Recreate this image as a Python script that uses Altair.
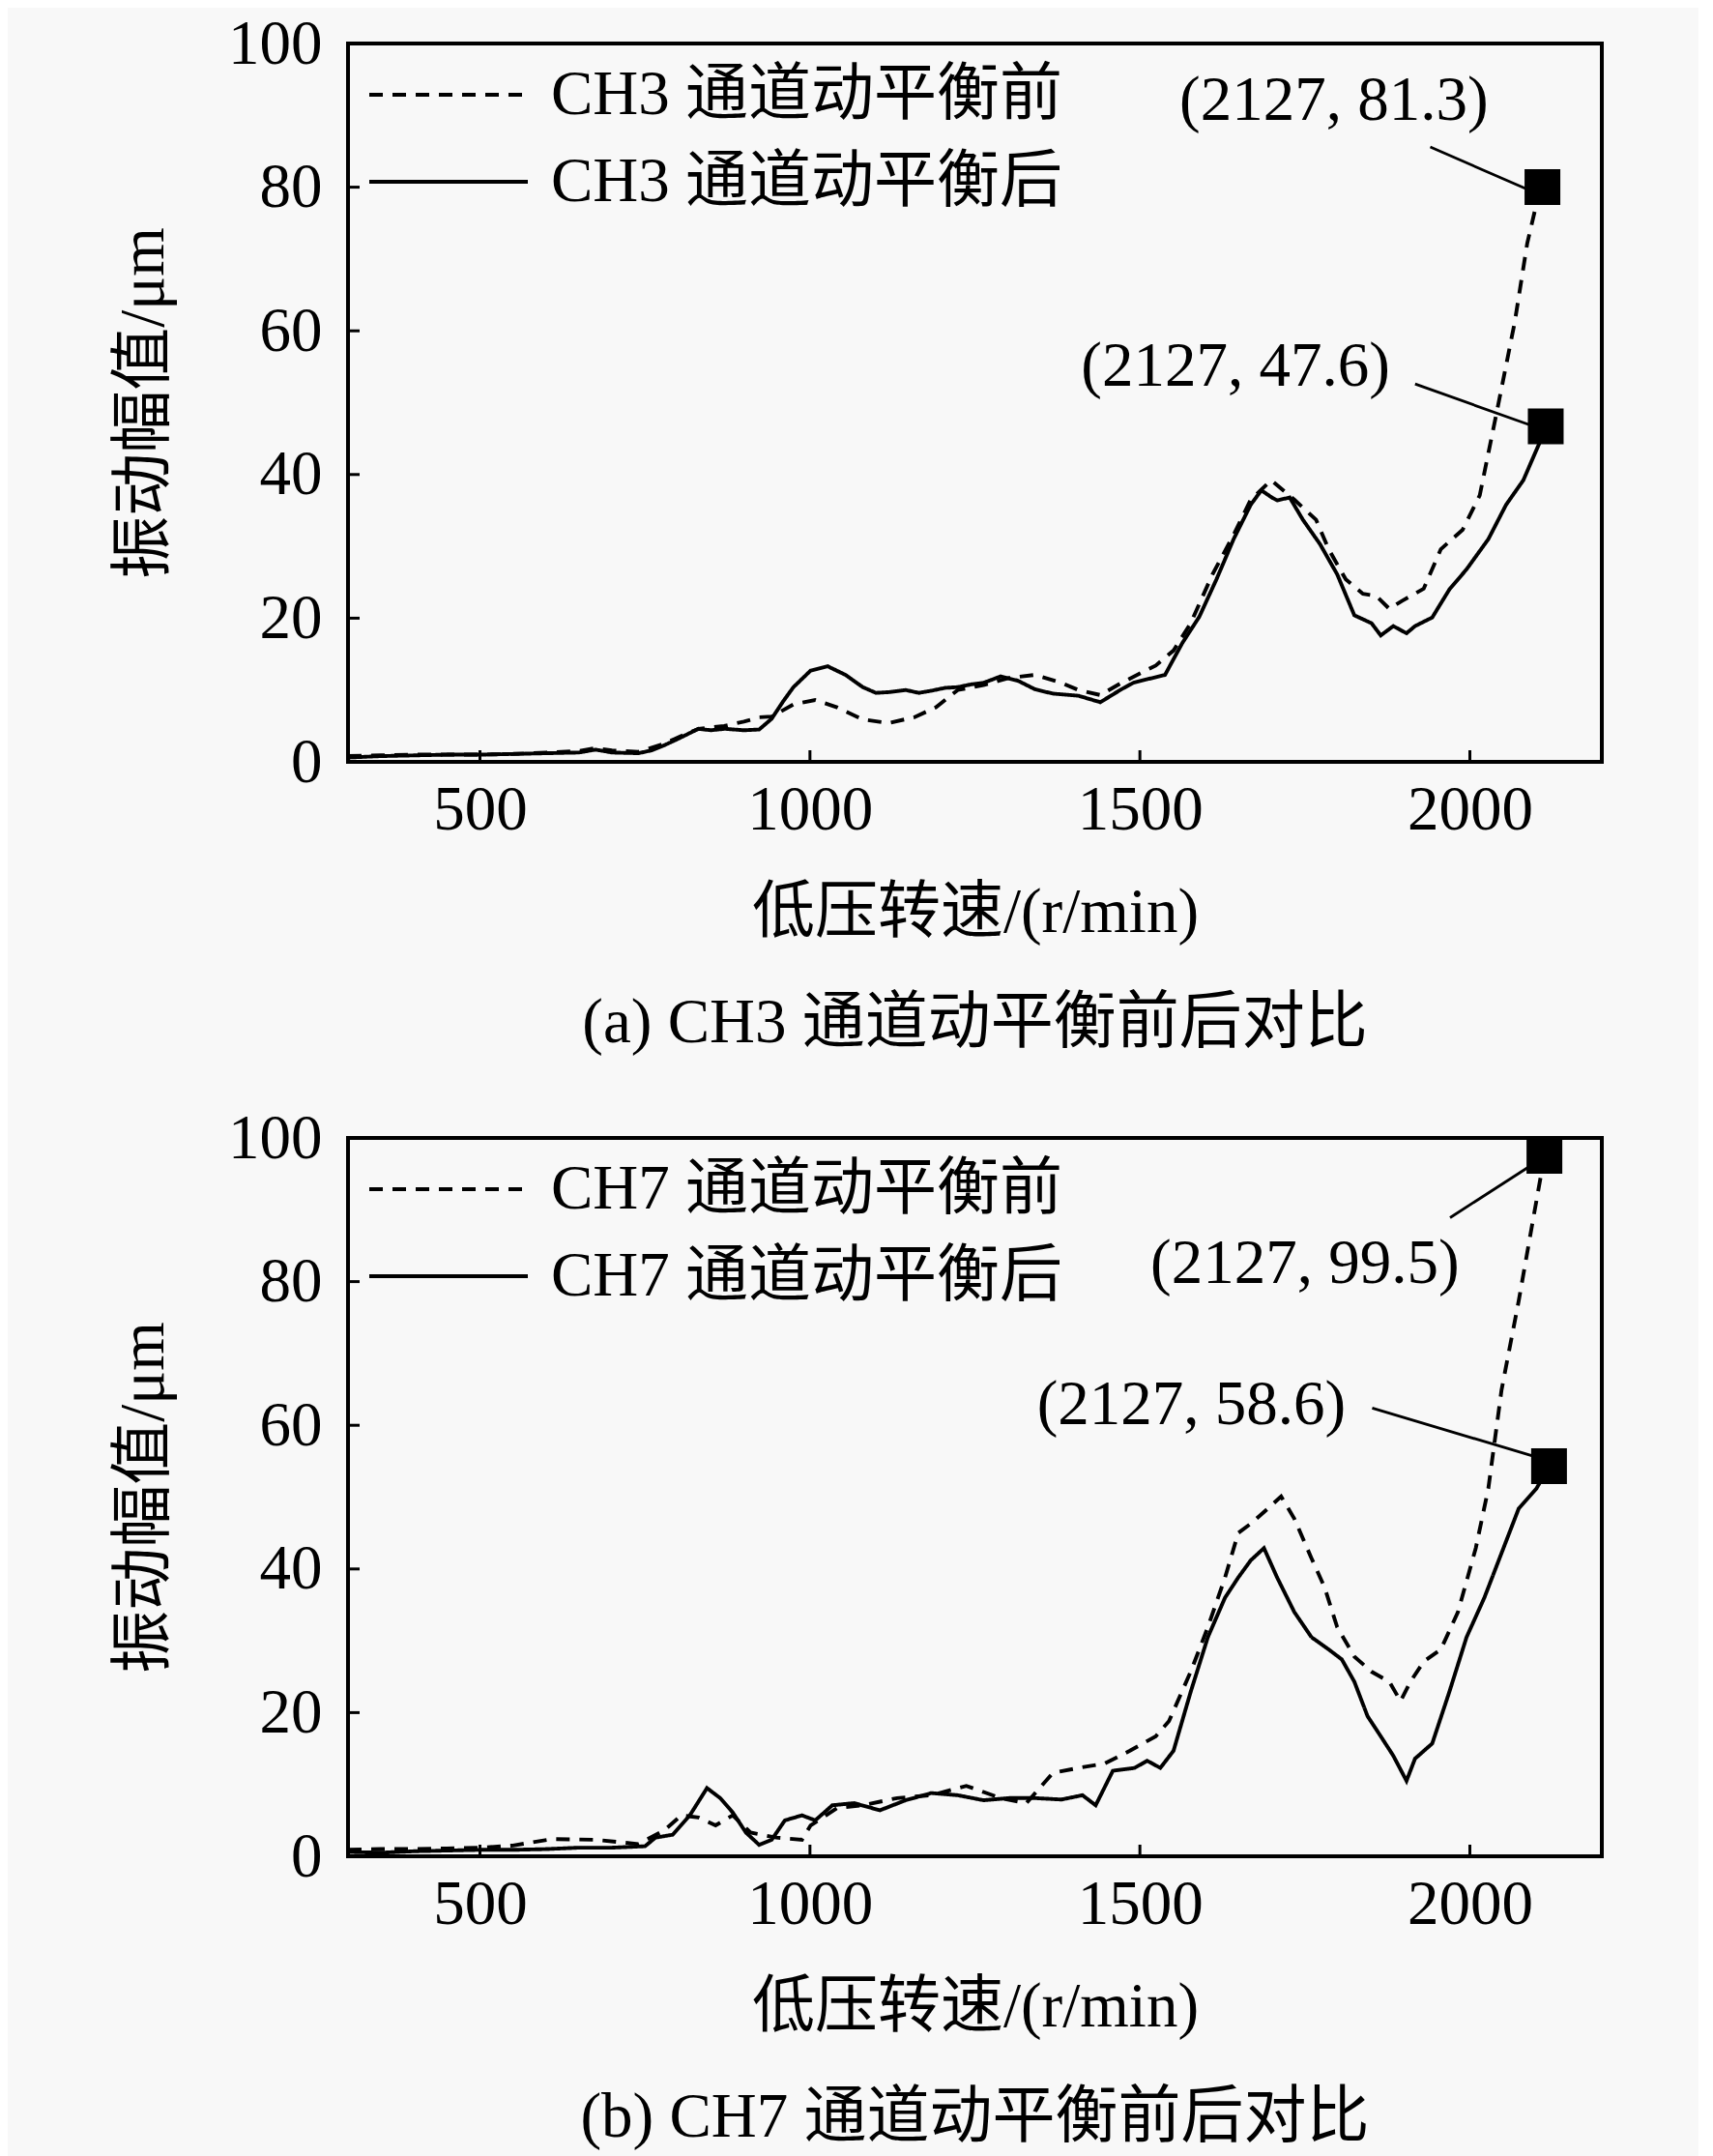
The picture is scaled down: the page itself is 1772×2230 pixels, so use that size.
import altair as alt
import pandas as pd

FONT = "Liberation Serif, Noto Sans CJK SC"
W, H = 1297, 743

# ---------------- data ----------------
x_ticks = [500, 1000, 1500, 2000]
y_ticks = [0, 20, 40, 60, 80, 100]

# (a) CH3
ch3_before_rpm = [300, 350, 400, 450, 500, 550, 600, 650, 675, 700, 740, 779, 800, 831, 870, 900, 923, 942,
                  975, 1008, 1041, 1080, 1119, 1158, 1191, 1224, 1263, 1302, 1341, 1381, 1407, 1440, 1472,
                  1524, 1551, 1577, 1610, 1642, 1668, 1699, 1734, 1767, 1786, 1812, 1838, 1858, 1878, 1897,
                  1930, 1956, 1989, 2015, 2041, 2068, 2087, 2101, 2110]
ch3_before_amp = [0.8, 0.9, 1.0, 1.0, 1.0, 1.1, 1.3, 1.5, 1.9, 1.6, 1.4, 2.5, 3.4, 4.6, 5.0, 5.6, 6.2, 6.3,
                  8.0, 8.6, 7.6, 5.9, 5.4, 6.2, 7.6, 10.0, 10.7, 11.7, 12.1, 11.0, 10.0, 9.3, 11.0,
                  13.4, 15.5, 19.3, 26.1, 31.6, 36.5, 39.2, 36.5, 33.7, 29.6, 25.4, 23.4, 23.1, 21.3, 22.4,
                  24.1, 29.6, 32.3, 37.1, 48.8, 61.2, 72.2, 77.7, 80.0]
ch3_after_rpm = [300, 350, 400, 450, 500, 550, 600, 650, 675, 700, 740, 760, 779, 800, 831, 850, 871, 900,
                 923, 942, 960, 975, 1001, 1027, 1054, 1080, 1100, 1119, 1145, 1165, 1184, 1205, 1224, 1245,
                 1263, 1289, 1315, 1341, 1368, 1407, 1440, 1472, 1490, 1511, 1538, 1564, 1590, 1616, 1642,
                 1668, 1684, 1700, 1708, 1727, 1747, 1773, 1799, 1825, 1851, 1865, 1884, 1904, 1917, 1943,
                 1969, 1995, 2028, 2055, 2081, 2107, 2115]
ch3_after_amp = [0.6, 0.8, 0.9, 1.0, 1.0, 1.1, 1.2, 1.3, 1.7, 1.3, 1.2, 1.6, 2.3, 3.2, 4.6, 4.4, 4.6, 4.4,
                 4.5, 6.0, 8.5, 10.4, 12.7, 13.3, 12.1, 10.4, 9.6, 9.7, 10.0, 9.6, 9.9, 10.3, 10.4, 10.8,
                 11.0, 11.9, 11.3, 10.1, 9.5, 9.2, 8.3, 10.1, 11.0, 11.5, 12.1, 16.5, 20.2, 25.4, 31.0,
                 35.8, 37.8, 36.8, 36.4, 36.8, 33.7, 30.3, 26.1, 20.4, 19.3, 17.6, 18.9, 17.9, 18.9, 20.1,
                 24.0, 26.8, 31.0, 35.8, 39.2, 44.7, 46.7]
ch3_label_text = ["(2127, 81.3)", "(2127, 47.6)"]
ch3_label_rpm = [1794, 1645]
ch3_label_amp = [92.1, 55.0]
ch3_lead_rpm = [1940, 1917]
ch3_lead_amp = [85.6, 52.6]
ch3_lead_rpm2 = [2087, 2094]
ch3_lead_amp2 = [79.7, 46.8]

# (b) CH7
ch7_before_rpm = [300, 350, 400, 450, 500, 550, 609, 675, 740, 779, 805, 831, 857, 883, 910, 949, 988, 1001,
                  1041, 1080, 1132, 1184, 1237, 1289, 1328, 1368, 1407, 1446, 1485, 1524, 1544, 1577, 1603,
                  1629, 1649, 1668, 1694, 1714, 1734, 1760, 1780, 1799, 1825, 1851, 1878, 1895, 1910, 1930,
                  1956, 1982, 2009, 2028, 2048, 2074, 2094, 2113]
ch7_before_amp = [0.9, 1.0, 1.0, 1.1, 1.2, 1.5, 2.4, 2.3, 1.7, 3.6, 5.7, 5.4, 4.3, 5.7, 3.3, 2.6, 2.3, 4.3,
                  6.7, 7.1, 8.1, 8.5, 9.8, 8.1, 7.4, 11.6, 12.3, 12.9, 14.7, 16.7, 18.8, 25.7, 31.9,
                  38.8, 45.0, 46.3, 48.4, 50.1, 47.0, 41.5, 37.4, 31.9, 27.8, 25.7, 24.3, 21.6, 24.3, 27.1,
                  28.8, 34.0, 42.9, 51.2, 64.9, 77.3, 87.7, 97.5]
ch7_after_rpm = [300, 350, 400, 450, 500, 550, 600, 650, 700, 750, 766, 792, 818, 844, 864, 883, 903, 923,
                 942, 962, 988, 1008, 1034, 1067, 1106, 1145, 1184, 1224, 1263, 1302, 1341, 1381, 1413,
                 1433, 1459, 1492, 1511, 1531, 1551, 1577, 1603, 1629, 1649, 1668, 1688, 1708, 1734, 1760,
                 1786, 1806, 1825, 1845, 1865, 1884, 1904, 1917, 1943, 1969, 1995, 2022, 2048, 2074, 2101,
                 2120]
ch7_after_amp = [0.6, 0.5, 0.7, 0.8, 0.9, 0.9, 1.0, 1.2, 1.2, 1.4, 2.6, 3.0, 5.7, 9.5, 8.1, 6.1, 3.3, 1.6,
                 2.3, 5.0, 5.7, 5.0, 7.1, 7.4, 6.4, 7.8, 8.8, 8.5, 7.8, 8.1, 8.1, 7.9, 8.5,
                 7.1, 11.9, 12.3, 13.3, 12.3, 14.7, 22.9, 30.5, 36.0, 38.8, 41.2, 42.9, 38.8, 34.0, 30.5,
                 28.8, 27.4, 24.3, 19.5, 16.7, 14.0, 10.5, 13.6, 15.7, 22.9, 30.5, 36.0, 42.2, 48.4, 51.2,
                 54.3]
ch7_label_text = ["(2127, 99.5)", "(2127, 58.6)"]
ch7_label_rpm = [1750, 1578]
ch7_label_amp = [82.5, 62.9]
ch7_lead_rpm = [1970, 1852]
ch7_lead_amp = [88.9, 62.4]
ch7_lead_rpm2 = [2100, 2100]
ch7_lead_amp2 = [96.6, 55.6]


def panel(ch, b_rpm, b_amp, a_rpm, a_amp, l_text, l_rpm, l_amp, r1, a1, r2, a2, caption):
    s_before = f"{ch} 通道动平衡前"
    s_after = f"{ch} 通道动平衡后"
    assert len(b_rpm) == len(b_amp) and len(a_rpm) == len(a_amp)
    rows = [{"rpm": r, "amp": v, "series": s_before} for r, v in zip(b_rpm, b_amp)]
    rows += [{"rpm": r, "amp": v, "series": s_after} for r, v in zip(a_rpm, a_amp)]
    df = pd.DataFrame(rows)

    xs = alt.Scale(domain=[300, 2200], nice=False, zero=False)
    ys = alt.Scale(domain=[0, 100], nice=False)
    xenc = alt.X("rpm:Q", scale=xs,
                 axis=alt.Axis(values=x_ticks, format="d", title="低压转速/(r/min)",
                               labelPadding=18, titlePadding=42))
    yenc = alt.Y("amp:Q", scale=ys,
                 axis=alt.Axis(values=y_ticks, format="d", title="振动幅值/μm",
                               labelPadding=27, titlePadding=53))

    lines = alt.Chart(df).mark_line(color="black", strokeWidth=3.9).encode(
        x=xenc, y=yenc,
        strokeDash=alt.StrokeDash(
            "series:N",
            scale=alt.Scale(domain=[s_before, s_after], range=[[14, 10], [1, 0]]),
            legend=alt.Legend(title=None, orient="none", legendX=20, legendY=18,
                              symbolType="stroke", symbolSize=164 * 164, symbolStrokeWidth=3.8,
                              symbolStrokeColor="black", labelFont=FONT, labelFontSize=65,
                              labelColor="black", labelOffset=22, labelLimit=2000,
                              clipHeight=70, rowPadding=20, padding=0),
        ),
    )

    marks_df = pd.DataFrame({"rpm": [b_rpm[-1], a_rpm[-1]], "amp": [b_amp[-1], a_amp[-1]]})
    squares = alt.Chart(marks_df).mark_square(size=1369, color="black", opacity=1).encode(
        x="rpm:Q", y="amp:Q")

    lead_df = pd.DataFrame({"rpm": r1, "amp": a1, "rpm2": r2, "amp2": a2})
    leads = alt.Chart(lead_df).mark_rule(color="black", strokeWidth=2.8).encode(
        x="rpm:Q", y="amp:Q", x2="rpm2:Q", y2="amp2:Q")

    lab_df = pd.DataFrame({"rpm": l_rpm, "amp": l_amp, "text": l_text})
    labels = alt.Chart(lab_df).mark_text(font=FONT, fontSize=65, color="black",
                                         align="center", baseline="middle").encode(
        x="rpm:Q", y="amp:Q", text="text:N")

    ytick_df = pd.DataFrame({"amp": y_ticks})
    yt = alt.Chart(ytick_df).mark_rule(color="black", strokeWidth=3).encode(
        y="amp:Q", x=alt.value(0), x2=alt.value(12))
    xtick_df = pd.DataFrame({"rpm": x_ticks})
    xt = alt.Chart(xtick_df).mark_rule(color="black", strokeWidth=3).encode(
        x="rpm:Q", y=alt.value(H), y2=alt.value(H - 12))

    return alt.layer(lines, yt, xt, leads, squares, labels).properties(
        width=W, height=H,
        title=alt.TitleParams(caption, orient="bottom", font=FONT, fontSize=65, fontWeight="normal",
                              color="black", offset=51, frame="group", anchor="middle"),
    )


pa = panel("CH3", ch3_before_rpm, ch3_before_amp, ch3_after_rpm, ch3_after_amp,
           ch3_label_text, ch3_label_rpm, ch3_label_amp, ch3_lead_rpm, ch3_lead_amp,
           ch3_lead_rpm2, ch3_lead_amp2, "(a) CH3 通道动平衡前后对比")
pb = panel("CH7", ch7_before_rpm, ch7_before_amp, ch7_after_rpm, ch7_after_amp,
           ch7_label_text, ch7_label_rpm, ch7_label_amp, ch7_lead_rpm, ch7_lead_amp,
           ch7_lead_rpm2, ch7_lead_amp2, "(b) CH7 通道动平衡前后对比")

chart = alt.vconcat(pa, pb, spacing=50).resolve_scale(strokeDash="independent").resolve_legend(
    strokeDash="independent"
).configure(
    padding={"left": 106, "top": 3, "right": 98, "bottom": 6},
    background="#f8f8f8",
).configure_view(
    stroke="black", strokeWidth=4, fill="#f8f8f8"
).configure_axis(
    labelFont=FONT, titleFont=FONT, labelFontSize=65, titleFontSize=65, titleFontWeight="normal",
    labelColor="black", titleColor="black", grid=False, ticks=False, domain=False,
)

chart.save("out.html", embed_options={"renderer": "svg", "actions": False})
